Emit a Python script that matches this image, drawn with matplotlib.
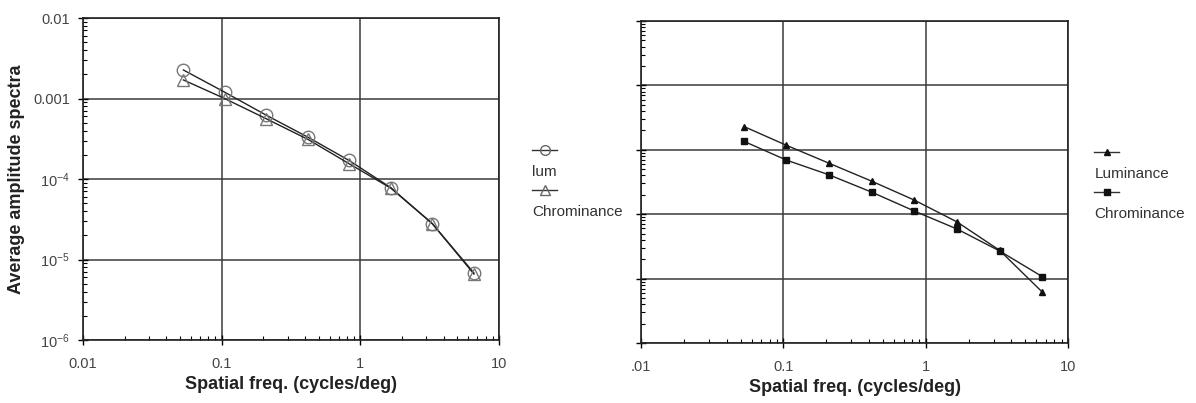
import matplotlib
matplotlib.use('Agg')
import matplotlib.pyplot as plt
from matplotlib import ticker
from matplotlib.lines import Line2D

plt.rcParams['font.family'] = ['Liberation Sans', 'DejaVu Sans']
plt.rcParams['mathtext.default'] = 'regular'

# spatial frequencies (cycles/deg)
freq = [0.053, 0.105, 0.21, 0.42, 0.83, 1.66, 3.3, 6.6]

# left panel: average amplitude spectra
lum_left = [0.00226, 0.0012, 0.00062, 0.00033, 0.00017, 7.8e-5, 2.8e-5, 6.8e-6]
chrom_left = [0.0017, 0.00100, 0.00056, 0.00031, 0.000155, 7.7e-5, 2.8e-5, 6.6e-6]

# right panel (y axis unlabeled), values as log10
lum_right_log = [-2.64, -2.93, -3.21, -3.49, -3.78, -4.12, -4.56, -5.21]
chrom_right_log = [-2.87, -3.16, -3.39, -3.66, -3.95, -4.23, -4.57, -4.97]
lum_right = [10 ** v for v in lum_right_log]
chrom_right = [10 ** v for v in chrom_right_log]

left_xticks = [0.01, 0.1, 1, 10]
left_xlabels = ['0.01', '0.1', '1', '10']
right_xlabels = ['.01', '0.1', '1', '10']
left_yticks = [1e-6, 1e-5, 1e-4, 1e-3, 1e-2]
left_ylabels = ['10$^{-6}$', '10$^{-5}$', '10$^{-4}$', '0.001', '0.01']

fig = plt.figure(figsize=(11.96, 4.03), dpi=100)
ax1 = fig.add_axes([0.0694, 0.1563, 0.3478, 0.799])
ax2 = fig.add_axes([0.536, 0.1489, 0.357, 0.799])


def style_axes(ax, xlabels):
    ax.set_xscale('log')
    ax.set_yscale('log')
    ax.set_xlim(0.01, 10)
    ax.set_xticks(left_xticks)
    ax.set_xticklabels(xlabels)
    ax.xaxis.set_minor_locator(ticker.LogLocator(base=10, subs=range(2, 10)))
    ax.xaxis.set_minor_formatter(ticker.NullFormatter())
    ax.grid(True, which='major', color='#3a3a3a', lw=1.1)
    ax.set_axisbelow(True)
    for s in ax.spines.values():
        s.set_color('#222222')
        s.set_linewidth(1.2)
    ax.tick_params(axis='x', which='major', direction='inout', length=7, width=1,
                   labelsize=10.5, labelcolor='#444444', pad=9)
    ax.tick_params(axis='y', which='major', direction='inout', length=7, width=1,
                   labelsize=10.5, labelcolor='#444444', pad=6)
    ax.tick_params(which='minor', direction='in', length=3, width=0.8)
    ax.set_xlabel('Spatial freq. (cycles/deg)', fontsize=13,
                  fontweight='bold', color='#222222', labelpad=3)


style_axes(ax1, left_xlabels)
ax1.set_ylim(1e-6, 1e-2)
ax1.set_yticks(left_yticks)
ax1.set_yticklabels(left_ylabels)
ax1.yaxis.set_minor_formatter(ticker.NullFormatter())
ax1.set_ylabel('Average amplitude spectra', fontsize=13,
               fontweight='bold', color='#222222', labelpad=6)

ax1.plot(freq, lum_left, color='#222222', lw=1, marker='o', ms=9,
         mfc='none', mec='#777777', mew=1)
ax1.plot(freq, chrom_left, color='#222222', lw=1, marker='^', ms=9,
         mfc='none', mec='#777777', mew=1)

style_axes(ax2, right_xlabels)
ax2.set_ylim(1e-6, 1e-1)
ax2.yaxis.set_major_formatter(ticker.NullFormatter())
ax2.yaxis.set_minor_formatter(ticker.NullFormatter())

ax2.plot(freq, lum_right, color='#222222', lw=1, marker='^', ms=4.5,
         mfc='#111111', mec='#111111')
ax2.plot(freq, chrom_right, color='#222222', lw=1, marker='s', ms=4.5,
         mfc='#111111', mec='#111111')


def legend_entry(x, y, marker, ms, mfc, mec, label):
    fig.add_artist(Line2D([x, x + 0.0105, x + 0.021], [y, y, y],
                          transform=fig.transFigure, color='#333333', lw=1,
                          marker=marker, markevery=[1], ms=ms, mfc=mfc, mec=mec))
    fig.text(x, y - 0.055, label, fontsize=11, color='#333333',
             va='center', ha='left')


legend_entry(0.445, 1 - 150 / 403, 'o', 7, 'none', '#666666', 'lum')
legend_entry(0.445, 1 - 190 / 403, '^', 7, 'none', '#666666', 'Chrominance')
legend_entry(0.915, 1 - 152 / 403, '^', 4.5, '#111111', '#111111', 'Luminance')
legend_entry(0.915, 1 - 192 / 403, 's', 4.5, '#111111', '#111111', 'Chrominance')

fig.savefig('out.png', dpi=100)
